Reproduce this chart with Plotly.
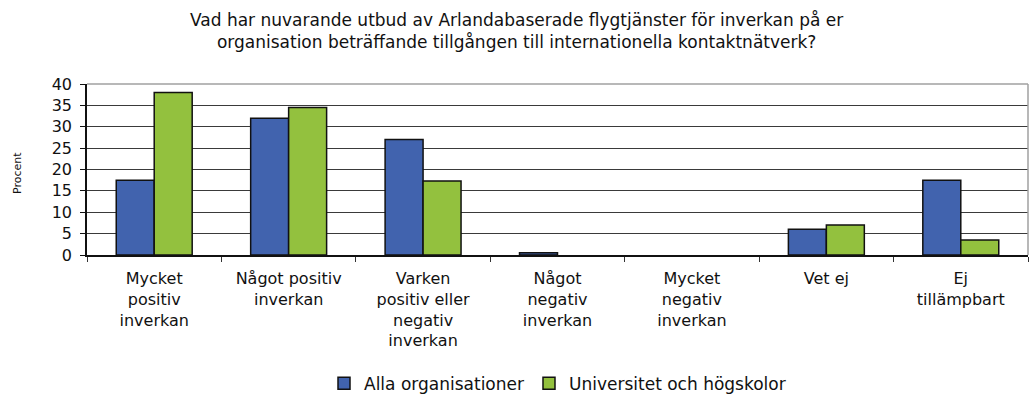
import plotly.graph_objects as go

categories = ["Mycket<br>positiv<br>inverkan", "Något positiv<br>inverkan",
              "Varken<br>positiv eller<br>negativ<br>inverkan", "Något<br>negativ<br>inverkan",
              "Mycket<br>negativ<br>inverkan", "Vet ej", "Ej<br>tillämpbart"]
alla = [17.5, 32.0, 27.0, 0.5, 0.0, 6.0, 17.5]
univ = [38.0, 34.5, 17.3, 0.0, 0.0, 7.0, 3.5]
series_names = ["Alla organisationer", "Universitet och högskolor"]
yticks = [0, 5, 10, 15, 20, 25, 30, 35, 40]

FONT = "DejaVu Sans"
H = 403
PT, PB = 84, 262
fig = go.Figure()
for vals, name, col in [(alla, series_names[0], "#4163AE"), (univ, series_names[1], "#93C13E")]:
    fig.add_trace(go.Bar(x=categories, y=vals, name=name,
                         marker=dict(color=col,
                                     line=dict(color="#111111",
                                               width=[1.5 if v > 0 else 0 for v in vals]))))

fig.update_layout(
    width=1029, height=H,
    margin=dict(l=87, r=1, t=PT, b=H - PB),
    paper_bgcolor="white", plot_bgcolor="white",
    barmode="group", bargap=0.435, bargroupgap=0,
    font=dict(family=FONT, color="#111111"),
    legend=dict(orientation="h", x=0.5, xanchor="center", y=-(396 - PB) / (PB - PT),
                yanchor="middle",
                font=dict(family=FONT, size=17, color="#111111"), traceorder="normal",
                itemwidth=30),
    showlegend=True,
)
fig.add_annotation(text="Vad har nuvarande utbud av Arlandabaserade flygtjänster för inverkan på er<br>organisation beträffande tillgången till internationella kontaktnätverk?",
                   xref="paper", yref="paper", x=(516 - 87) / 941, y=1 + (PT - 5) / (PB - PT),
                   xanchor="center", yanchor="top", showarrow=False, align="center",
                   font=dict(family=FONT, size=17, color="#111111"))
fig.update_xaxes(showline=True, linecolor="#111111", linewidth=1.5, automargin=False,
                 ticks="outside", tickson="boundaries", ticklen=5, tickcolor="#333333",
                 ticklabelstandoff=8,
                 tickfont=dict(family=FONT, size=16, color="#111111"), showgrid=False)
fig.update_yaxes(range=[0, 40], tickvals=yticks, showline=True, linecolor="#111111", linewidth=1.5,
                 ticks="outside", ticklen=5, tickcolor="#111111", automargin=False,
                 ticklabelstandoff=5,
                 tickfont=dict(family=FONT, size=16, color="#111111"),
                 showgrid=True, gridcolor="#3a3a3a", gridwidth=1, zeroline=False)
fig.add_annotation(text="Procent", xref="paper", yref="paper", x=(18 - 87) / 941, y=0.48,
                   xanchor="center", yanchor="middle",
                   textangle=-90, showarrow=False, font=dict(family=FONT, size=11, color="#111111"))
fig.add_shape(type="line", xref="paper", yref="paper", x0=1, x1=1, y0=0, y1=1,
              line=dict(color="#A0A0A0", width=1.5))
fig.add_shape(type="line", xref="paper", yref="paper", x0=0, x1=1, y0=1, y1=1,
              line=dict(color="#A0A0A0", width=1.5))
css_js = ("var s=document.createElement('style');"
          "s.textContent='html,body{margin:0;padding:0;}';"
          "document.head.appendChild(s);")
fig.write_html("out.html", config={"displayModeBar": False}, post_script=css_js)
